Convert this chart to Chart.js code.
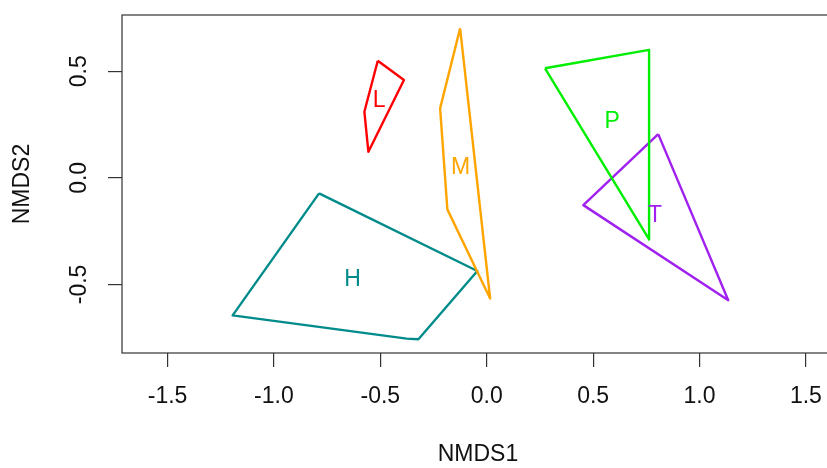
<!DOCTYPE html>
<html>
<head>
<meta charset="utf-8">
<title>NMDS hulls</title>
<script src="https://cdn.jsdelivr.net/npm/chart.js@4.4.1/dist/chart.umd.min.js"></script>
<style>
  html, body { margin: 0; padding: 0; background: #fff; }
  #wrap { width: 827px; height: 468px; overflow: hidden; }
  canvas { display: block; }
</style>
</head>
<body>
<div id="wrap"><canvas id="nmds" width="846" height="468"></canvas></div>
<script>
// group names and convex hull vertices (NMDS1, NMDS2)
const groups = ['L', 'M', 'P', 'T', 'H'];
const hullL = [[-0.512, 0.549], [-0.389, 0.459], [-0.556, 0.122], [-0.575, 0.310]];
const hullM = [[-0.125, 0.701], [0.016, -0.566], [-0.185, -0.148], [-0.219, 0.326]];
const hullP = [[0.274, 0.514], [0.763, 0.600], [0.763, -0.289]];
const hullT = [[0.806, 0.205], [1.135, -0.574], [0.454, -0.128]];
const hullH = [[-0.788, -0.073], [-0.044, -0.437], [-0.321, -0.757], [-0.376, -0.754], [-1.194, -0.645]];
// group label positions (centroids)
const labelX = [-0.505, -0.123, 0.590, 0.791, -0.631];
const labelY = [0.360, 0.050, 0.262, -0.176, -0.478];

const xTicks = [-1.5, -1.0, -0.5, 0.0, 0.5, 1.0, 1.5];
const xTickLabels = ['-1.5', '-1.0', '-0.5', '0.0', '0.5', '1.0', '1.5'];
const yTicks = [-0.5, 0.0, 0.5];
const yTickLabels = ['-0.5', '0.0', '0.5'];

const hulls = [hullL, hullM, hullP, hullT, hullH];
const colors = ['#FF0000', '#FFA500', '#00EE00', '#A020F0', '#008B8B'];
const FONT = '"Liberation Sans", Arial, sans-serif';
const INK = '#111';

const boxPlugin = {
  id: 'box',
  afterDraw(chart) {
    const { ctx, chartArea: a, scales } = chart;
    ctx.save();
    ctx.strokeStyle = '#333';
    ctx.lineWidth = 1.2;
    ctx.strokeRect(a.left, a.top, a.right - a.left, a.bottom - a.top);

    // rotated y tick labels, as R draws them
    ctx.fillStyle = INK;
    ctx.font = '23px ' + FONT;
    ctx.textAlign = 'center';
    ctx.textBaseline = 'middle';
    yTicks.forEach((v, i) => {
      const y = scales.y.getPixelForValue(v);
      ctx.save();
      ctx.translate(80, y);
      ctx.rotate(-Math.PI / 2);
      ctx.fillText(yTickLabels[i], 0, 0);
      ctx.restore();
    });

    // group labels
    groups.forEach((g, i) => {
      ctx.fillStyle = colors[i];
      ctx.fillText(g, scales.x.getPixelForValue(labelX[i]), scales.y.getPixelForValue(labelY[i]));
    });
    ctx.restore();
  }
};

new Chart(document.getElementById('nmds'), {
  type: 'scatter',
  data: {
    datasets: hulls.map((h, i) => ({
      label: groups[i],
      data: h.concat([h[0]]).map(p => ({ x: p[0], y: p[1] })),
      showLine: true,
      borderColor: colors[i],
      borderWidth: 2.4,
      borderJoinStyle: 'round',
      pointRadius: 0,
      fill: false,
      tension: 0
    }))
  },
  options: {
    responsive: false,
    animation: false,
    layout: { padding: { top: 15, left: 0, right: 12, bottom: 0 } },
    plugins: { legend: { display: false }, tooltip: { enabled: false } },
    scales: {
      x: {
        type: 'linear',
        min: -1.714,
        max: 1.632,
        afterBuildTicks: (s) => { s.ticks = xTicks.map(v => ({ value: v })); },
        afterFit: (s) => { s.height = 115; },
        ticks: {
          callback: (v) => xTickLabels[xTicks.indexOf(v)],
          color: INK,
          font: { family: FONT, size: 23 },
          padding: 16,
          maxRotation: 0
        },
        grid: { drawOnChartArea: false, tickLength: 14, color: '#333', lineWidth: 1.2 },
        border: { display: false },
        title: {
          display: true,
          text: 'NMDS1',
          color: INK,
          font: { family: FONT, size: 23 },
          padding: { top: 0, bottom: 0 }
        }
      },
      y: {
        type: 'linear',
        min: -0.8216,
        max: 0.7638,
        afterBuildTicks: (s) => { s.ticks = yTicks.map(v => ({ value: v })); },
        afterFit: (s) => { s.width = 122; },
        ticks: { display: false },
        grid: { drawOnChartArea: false, tickLength: 14, color: '#333', lineWidth: 1.2 },
        border: { display: false },
        title: {
          display: true,
          text: 'NMDS2',
          color: INK,
          font: { family: FONT, size: 23 },
          padding: { top: 9, bottom: 0 }
        }
      }
    }
  },
  plugins: [boxPlugin]
});
</script>
</body>
</html>
